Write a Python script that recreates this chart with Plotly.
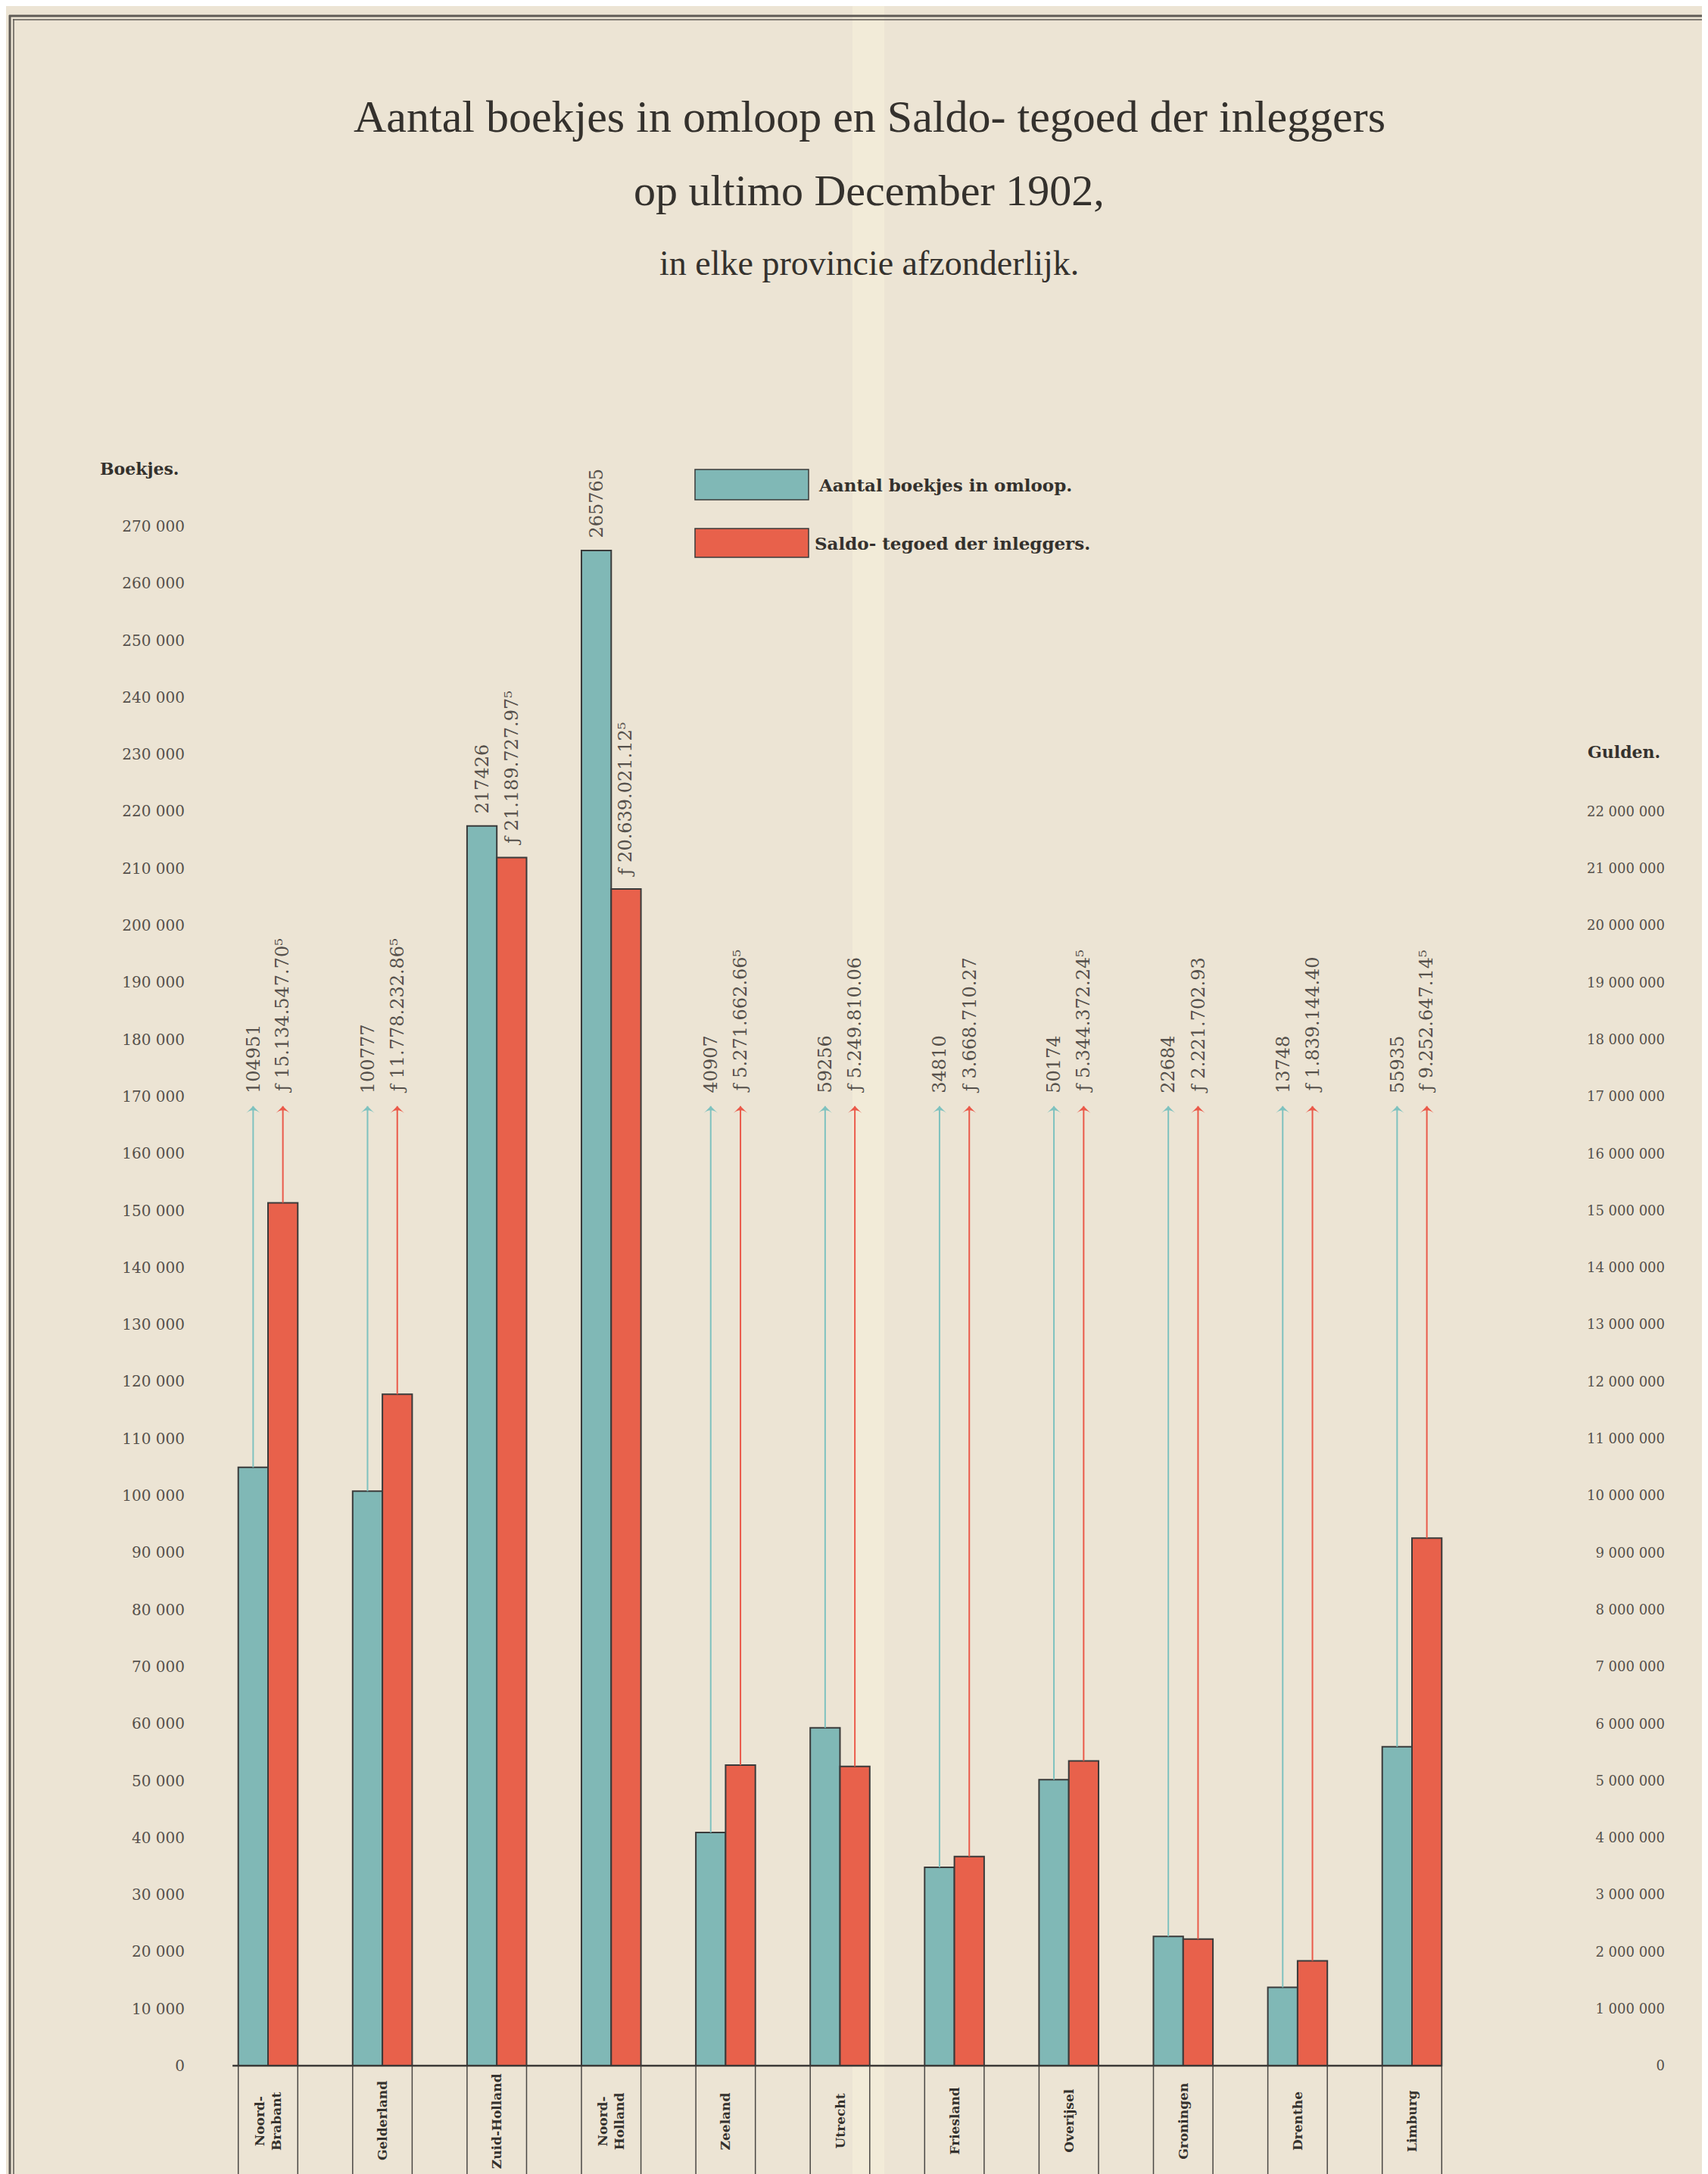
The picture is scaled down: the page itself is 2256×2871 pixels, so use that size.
import plotly.graph_objects as go

# ---------------- data ----------------
provinces = ["Noord-<br>Brabant", "Gelderland", "Zuid-Holland", "Noord-<br>Holland", "Zeeland",
             "Utrecht", "Friesland", "Overijsel", "Groningen", "Drenthe", "Limburg"]
boekjes = [104951, 100777, 217426, 265765, 40907, 59256, 34810, 50174, 22684, 13748, 55935]
saldo = [15134547.705, 11778232.865, 21189727.975, 20639021.125, 5271662.665, 5249810.06,
         3668710.27, 5344372.245, 2221702.93, 1839144.40, 9252647.145]
boekjes_labels = ["104951", "100777", "217426", "265765", "40907", "59256", "34810",
                  "50174", "22684", "13748", "55935"]
saldo_labels = ["ƒ 15.134.547.70⁵", "ƒ 11.778.232.86⁵", "ƒ 21.189.727.97⁵",
                "ƒ 20.639.021.12⁵", "ƒ 5.271.662.66⁵", "ƒ 5.249.810.06",
                "ƒ 3.668.710.27", "ƒ 5.344.372.24⁵", "ƒ 2.221.702.93",
                "ƒ 1.839.144.40", "ƒ 9.252.647.14⁵"]
left_ticks = list(range(0, 270001, 10000))
right_ticks = list(range(0, 22000001, 1000000))
legend_names = ["Aantal boekjes in omloop.", "Saldo- tegoed der inleggers."]

# ---------------- style / geometry ----------------
W, H = 2256, 2871
L, R, T, B = 252, 2194, 300, 2871
X0, DX = 346.0, 151.1           # pixel of first group centre, pixels per group
Y0, K = 2720.0, 0.0075296       # pixel of zero, pixels per boekje
BW = 0.26                       # bar width (in group units)
ARROW_TIP = 168300
LABEL_BASE = 170300

BG = "#ECE4D4"
TEAL = "#80B8B6"
RED = "#E8614B"
TEAL_ARROW = "#7FC2BF"
RED_ARROW = "#EA5A4A"
INK = "#34312D"
NUM = "#55504B"
EDGE = "#3A3A3A"

xr = [(L - X0) / DX, (R - X0) / DX]
yr = [(Y0 - B) / K, (Y0 - T) / K]


def px_x(px):
    return (px - L) / (R - L)


def px_y(py):
    return (B - py) / (B - T)


def ydata(py):
    return (Y0 - py) / K


def fmt(v):
    return f"{v:,}".replace(",", " ")


xs = list(range(len(provinces)))

fig = go.Figure()
fig.add_trace(go.Bar(x=xs, y=boekjes, width=BW, offset=-BW, name=legend_names[0],
                     marker=dict(color=TEAL, line=dict(color=EDGE, width=2)),
                     showlegend=False, hoverinfo="skip"))
fig.add_trace(go.Bar(x=xs, y=saldo, width=BW, offset=0, name=legend_names[1], yaxis="y2",
                     marker=dict(color=RED, line=dict(color=EDGE, width=2)),
                     showlegend=False, hoverinfo="skip"))

# arrow shafts and heads (scatter traces)
tx, ty, tmx, tmy = [], [], [], []
rx, ry, rmx, rmy = [], [], [], []
for i in xs:
    if boekjes[i] < ARROW_TIP:
        xt = i - BW / 2
        tx += [xt, xt, None]
        ty += [boekjes[i], ARROW_TIP, None]
        tmx.append(xt)
        tmy.append(ARROW_TIP)
    if saldo[i] < ARROW_TIP * 100:
        xrd = i + BW / 2
        rx += [xrd, xrd, None]
        ry += [saldo[i], ARROW_TIP * 100, None]
        rmx.append(xrd)
        rmy.append(ARROW_TIP * 100)

fig.add_trace(go.Scatter(x=tx, y=ty, mode="lines", line=dict(color=TEAL_ARROW, width=2),
                         showlegend=False, hoverinfo="skip"))
fig.add_trace(go.Scatter(x=tmx, y=tmy, mode="markers",
                         marker=dict(symbol="arrow-wide", size=13, color=TEAL_ARROW,
                                     line=dict(width=0)),
                         showlegend=False, hoverinfo="skip"))
fig.add_trace(go.Scatter(x=rx, y=ry, yaxis="y2", mode="lines", line=dict(color=RED_ARROW, width=2),
                         showlegend=False, hoverinfo="skip"))
fig.add_trace(go.Scatter(x=rmx, y=rmy, yaxis="y2", mode="markers",
                         marker=dict(symbol="arrow-wide", size=13, color=RED_ARROW,
                                     line=dict(width=0)),
                         showlegend=False, hoverinfo="skip"))

ann = []
shapes = []
VAL_FONT = dict(family="DejaVu Serif", size=24, color=NUM)

for i in xs:
    xt = i - BW / 2
    xrd = i + BW / 2
    if boekjes[i] < ARROW_TIP:
        ly, sh = LABEL_BASE, 0
    else:
        ly, sh = boekjes[i], 14
    ann.append(dict(x=xt, y=ly, xref="x", yref="y", text=boekjes_labels[i], showarrow=False,
                    textangle=-90, xanchor="center", yanchor="bottom", yshift=sh,
                    font=VAL_FONT))
    if saldo[i] < ARROW_TIP * 100:
        ly, sh = LABEL_BASE * 100, 0
    else:
        ly, sh = saldo[i], 14
    ann.append(dict(x=xrd, y=ly, xref="x", yref="y2", text=saldo_labels[i], showarrow=False,
                    textangle=-90, xanchor="center", yanchor="bottom", yshift=sh,
                    font=VAL_FONT))
    # category labels in table
    ann.append(dict(x=i, y=ydata(2793), xref="x", yref="y", text=provinces[i], showarrow=False,
                    textangle=-90, xanchor="center", yanchor="middle",
                    font=dict(family="DejaVu Serif", size=17, color=INK, weight="bold")))
    # table vertical lines
    for xe in (i - BW, i + BW):
        shapes.append(dict(type="line", xref="x", yref="y", x0=xe, x1=xe, y0=0, y1=yr[0],
                           line=dict(color="#4A4744", width=1.5), layer="above"))

# baseline
shapes.append(dict(type="line", xref="x", yref="y", x0=-BW - 0.05, x1=xs[-1] + BW, y0=0, y1=0,
                   line=dict(color="#3A3836", width=2.5), layer="above"))

# paper fold band
shapes.append(dict(type="rect", xref="paper", yref="paper", x0=px_x(1118), x1=px_x(1160),
                   y0=px_y(H), y1=px_y(0), fillcolor="rgba(250,245,222,0.45)",
                   line=dict(width=0), layer="below"))

# frame
frame_col = "#5E5A55"
shapes += [
    dict(type="line", xref="paper", yref="paper", x0=px_x(4), x1=px_x(W + 5), y0=px_y(13), y1=px_y(13),
         line=dict(color=frame_col, width=3)),
    dict(type="line", xref="paper", yref="paper", x0=px_x(9), x1=px_x(W + 5), y0=px_y(18), y1=px_y(18),
         line=dict(color=frame_col, width=1.5)),
    dict(type="line", xref="paper", yref="paper", x0=px_x(5), x1=px_x(5), y0=px_y(12), y1=px_y(H + 5),
         line=dict(color=frame_col, width=3)),
    dict(type="line", xref="paper", yref="paper", x0=px_x(10), x1=px_x(10), y0=px_y(17), y1=px_y(H + 5),
         line=dict(color=frame_col, width=1.5)),
    dict(type="line", xref="paper", yref="paper", x0=px_x(5), x1=px_x(W + 5), y0=px_y(2867), y1=px_y(2867),
         line=dict(color=frame_col, width=2.5)),
]

# legend
leg_cols = [TEAL, RED]
leg_y = [(612, 652), (690, 728)]
leg_tx = [1071, 1066]
for k in range(2):
    shapes.append(dict(type="rect", xref="paper", yref="paper", x0=px_x(910), x1=px_x(1060),
                       y0=px_y(leg_y[k][1]), y1=px_y(leg_y[k][0]), fillcolor=leg_cols[k],
                       line=dict(color=EDGE, width=1.5)))
    ann.append(dict(x=px_x(leg_tx[k]), y=px_y(sum(leg_y[k]) / 2), xref="paper", yref="paper",
                    text=legend_names[k], showarrow=False, xanchor="left", yanchor="middle",
                    font=dict(family="DejaVu Serif", size=23, color=INK, weight="bold")))

# axis captions
ann.append(dict(x=px_x(122), y=px_y(611), xref="paper", yref="paper", text="Boekjes.",
                showarrow=False, xanchor="left", yanchor="middle",
                font=dict(family="DejaVu Serif", size=22, color=INK, weight="bold")))
ann.append(dict(x=px_x(2087), y=px_y(985), xref="paper", yref="paper", text="Gulden.",
                showarrow=False, xanchor="left", yanchor="middle",
                font=dict(family="DejaVu Serif", size=22, color=INK, weight="bold")))

# titles
titles = [("Aantal boekjes in omloop en Saldo- tegoed der inleggers", 146, 60),
          ("op ultimo December 1902,", 243, 58),
          ("in elke provincie afzonderlijk.", 340, 46)]
for txt, py, sz in titles:
    ann.append(dict(x=px_x(1140), y=px_y(py), xref="paper", yref="paper", text=txt,
                    showarrow=False, xanchor="center", yanchor="middle",
                    font=dict(family="Liberation Serif", size=sz, color=INK)))

fig.update_layout(
    width=W, height=H,
    margin=dict(l=L, r=W - R, t=T, b=H - B, pad=0),
    paper_bgcolor=BG, plot_bgcolor="rgba(0,0,0,0)",
    barmode="overlay",
    showlegend=False,
    xaxis=dict(range=xr, visible=False, fixedrange=True),
    yaxis=dict(range=yr, tickvals=left_ticks, ticktext=[fmt(v) for v in left_ticks],
               showgrid=False, zeroline=False, showline=False, ticks="",
               ticklabelstandoff=15,
               tickfont=dict(family="DejaVu Serif", size=20, color=NUM)),
    yaxis2=dict(range=[v * 100 for v in yr], overlaying="y", side="right",
                tickvals=right_ticks, ticktext=[fmt(v) for v in right_ticks],
                ticklabelposition="inside", showgrid=False, zeroline=False, showline=False,
                ticks="", tickfont=dict(family="DejaVu Serif", size=18, color=NUM)),
    annotations=ann,
    shapes=shapes,
)

fig.write_html("out.html")
